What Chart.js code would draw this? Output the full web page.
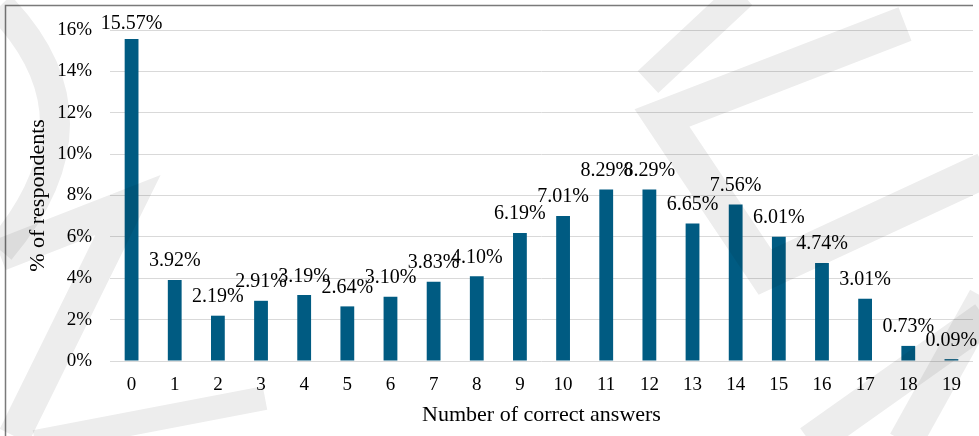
<!DOCTYPE html>
<html>
<head>
<meta charset="utf-8">
<script src="https://cdn.jsdelivr.net/npm/chart.js@4.4.1/dist/chart.umd.min.js"></script>
<style>
  html, body { margin: 0; padding: 0; background: #ffffff; }
  #wrap { width: 979px; height: 436px; position: relative; }
</style>
</head>
<body>
<div id="wrap"><canvas id="chart" width="979" height="436"></canvas></div>
<script>
// Number of correct answers (0..19)
const answers = ['0', '1', '2', '3', '4', '5', '6', '7', '8', '9',
                 '10', '11', '12', '13', '14', '15', '16', '17', '18', '19'];
// Share of respondents for each score, in percent
const shares = [15.57, 3.92, 2.19, 2.91, 3.19, 2.64, 3.10, 3.83, 4.10, 6.19,
                7.01, 8.29, 8.29, 6.65, 7.56, 6.01, 4.74, 3.01, 0.73, 0.09];
// Value-axis ticks, in percent
const yTicks = [0, 2, 4, 6, 8, 10, 12, 14, 16];

const SERIF = '"Liberation Serif", "Times New Roman", serif';
const BAR_COLOR = '#005b82';

// Percentage labels above each bar
const barLabels = {
  id: 'barLabels',
  afterDatasetsDraw(chart) {
    const ctx = chart.ctx;
    const meta = chart.getDatasetMeta(0);
    ctx.save();
    ctx.font = '20px ' + SERIF;
    ctx.fillStyle = '#000000';
    ctx.textAlign = 'center';
    ctx.textBaseline = 'alphabetic';
    meta.data.forEach((bar, i) => {
      const v = chart.data.datasets[0].data[i];
      const y = Math.max(bar.y - 13.5, chart.chartArea.top - 1.5);
      ctx.fillText(v.toFixed(2) + '%', bar.x, y);
    });
    ctx.restore();
  }
};

// Frame lines along the top and left edge of the figure
const frame = {
  id: 'frame',
  afterDraw(chart) {
    const ctx = chart.ctx;
    ctx.save();
    ctx.strokeStyle = '#7a7a7a';
    ctx.lineWidth = 1.5;
    ctx.beginPath();
    ctx.moveTo(5.5, chart.height);
    ctx.lineTo(5.5, 5.5);
    ctx.lineTo(973, 5.5);
    ctx.stroke();
    ctx.restore();
  }
};

// Pale diagonal background stamp
const stamp = {
  id: 'stamp',
  afterDraw(chart) {
    const ctx = chart.ctx;
    ctx.save();
    ctx.globalCompositeOperation = 'multiply';
    ctx.strokeStyle = 'rgb(237,237,237)';
    ctx.lineJoin = 'miter';
    ctx.lineCap = 'butt';

    const stroke = (pts, w) => {
      ctx.lineWidth = w;
      ctx.beginPath();
      ctx.moveTo(pts[0][0], pts[0][1]);
      for (let k = 1; k < pts.length; k++) ctx.lineTo(pts[k][0], pts[k][1]);
      ctx.stroke();
    };

    // left arc
    ctx.lineWidth = 30;
    ctx.beginPath();
    ctx.moveTo(0, 6);
    ctx.quadraticCurveTo(110, 120, 0, 250);
    ctx.stroke();

    // left chevron and foot
    stroke([[0, 255], [128, 205], [14, 436]], 32);
    stroke([[35, 442], [265, 398]], 24);

    // right group
    stroke([[648, 82], [742, -6]], 30);
    stroke([[905, 24], [662, 118], [765, 272], [985, 170]], 36);
    stroke([[810, 442], [985, 318]], 34);
    stroke([[905, 442], [985, 298]], 34);

    ctx.restore();
  }
};

new Chart(document.getElementById('chart'), {
  type: 'bar',
  data: {
    labels: answers,
    datasets: [{
      data: shares,
      backgroundColor: BAR_COLOR,
      borderWidth: 0,
      barPercentage: 0.32,
      categoryPercentage: 1.0
    }]
  },
  options: {
    responsive: false,
    animation: false,
    devicePixelRatio: 1,
    layout: { padding: { left: 0, right: 6, top: 30, bottom: 0 } },
    plugins: {
      legend: { display: false },
      tooltip: { enabled: false }
    },
    scales: {
      x: {
        type: 'category',
        grid: { display: false, drawTicks: false },
        border: { display: false },
        ticks: {
          color: '#000000',
          font: { family: SERIF, size: 19 },
          padding: 13,
          maxRotation: 0
        },
        title: {
          display: true,
          text: 'Number of correct answers',
          color: '#000000',
          font: { family: SERIF, size: 22 },
          padding: { top: 0, bottom: 8 }
        },
        afterFit(scale) { scale.height = 75; }
      },
      y: {
        min: 0,
        max: 16,
        afterBuildTicks(scale) { scale.ticks = yTicks.map(v => ({ value: v })); },
        grid: { color: '#d9d9d9', lineWidth: 1, drawTicks: false },
        border: { display: false },
        ticks: {
          color: '#000000',
          font: { family: SERIF, size: 19 },
          padding: 18,
          callback: v => v + '%'
        },
        title: {
          display: true,
          text: '% of respondents',
          color: '#000000',
          font: { family: SERIF, size: 22 },
          padding: { top: 25, bottom: 0 }
        },
        afterFit(scale) { scale.width = 110; }
      }
    }
  },
  plugins: [barLabels, frame, stamp]
});
</script>
</body>
</html>
